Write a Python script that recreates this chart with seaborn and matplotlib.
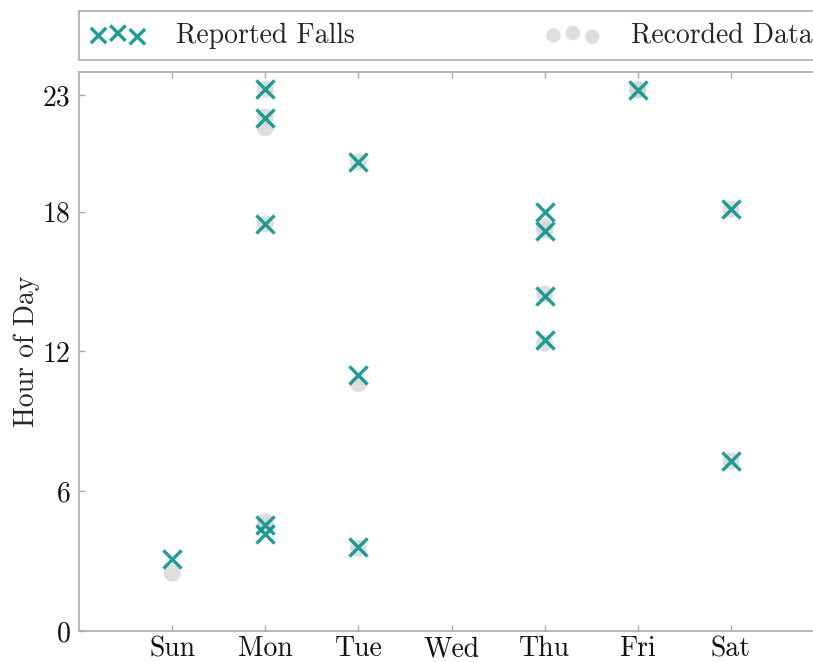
import matplotlib
matplotlib.use("Agg")
import matplotlib.pyplot as plt
import seaborn as sns
import pandas as pd

day_names = ["Sun", "Mon", "Tue", "Wed", "Thu", "Fri", "Sat"]
y_ticks = [0, 6, 12, 18, 23]

falls_day = ["Sun", "Mon", "Mon", "Mon", "Mon", "Mon", "Tue", "Tue", "Tue",
             "Thu", "Thu", "Thu", "Thu", "Fri", "Sat", "Sat"]
falls_hour = [3.08, 23.25, 22.0, 17.47, 4.54, 4.15, 20.13, 11.0, 3.6,
              17.98, 17.15, 14.38, 12.47, 23.2, 18.1, 7.3]

rec_day = ["Sun", "Mon", "Mon", "Mon", "Mon", "Mon", "Mon", "Tue", "Tue", "Tue",
           "Thu", "Thu", "Thu", "Thu", "Fri", "Fri", "Sat", "Sat"]
rec_hour = [2.48, 23.25, 22.05, 21.6, 17.47, 4.68, 4.5, 20.13, 10.62, 3.55,
            17.35, 17.2, 14.45, 12.35, 23.25, 23.2, 18.1, 7.3]

falls = pd.DataFrame({"day": [day_names.index(d) for d in falls_day], "hour": falls_hour})
rec = pd.DataFrame({"day": [day_names.index(d) for d in rec_day], "hour": rec_hour})

sns.set_style("ticks")
plt.rcParams["font.family"] = ["cmr10", "DejaVu Serif"]
plt.rcParams["mathtext.fontset"] = "cm"
plt.rcParams["axes.unicode_minus"] = False

fig = plt.figure(figsize=(8.13, 6.62), dpi=100)
ax = fig.add_axes([0.0972, 0.0468, 0.9164, 0.8449])

teal = "#0b968f"
grey = "#d4d4d4"

sns.scatterplot(data=rec, x="day", y="hour", ax=ax, marker="o", s=150,
                color=grey, alpha=0.75, edgecolor="none", linewidth=0,
                label="Recorded Data", zorder=2)
sns.scatterplot(data=falls, x="day", y="hour", ax=ax, marker="x", s=170,
                color=teal, alpha=0.92, linewidth=2.4,
                label="Reported Falls", zorder=3)

ax.set_xlim(-1, 7)
ax.set_ylim(0, 24)
ax.set_xticks(range(len(day_names)), labels=day_names)
ax.set_yticks(y_ticks, labels=[str(t) for t in y_ticks])
ax.set_xlabel("")
ax.set_ylabel("Hour of Day", fontsize=20, labelpad=2)

spine_col = "#aaaaaa"
for s in ax.spines.values():
    s.set_color(spine_col)
    s.set_linewidth(1.2)
    s.set_visible(True)
ax.tick_params(axis="both", which="both", direction="in", length=4.5, width=1.0,
               color=spine_col, labelsize=20, top=True, right=True,
               labelcolor="#111111")
ax.tick_params(axis="x", pad=3.5)
ax.tick_params(axis="y", pad=6)

handles, labels = ax.get_legend_handles_labels()
order = [labels.index("Reported Falls"), labels.index("Recorded Data")]
leg = ax.legend([handles[i] for i in order], [labels[i] for i in order],
                loc="lower left", bbox_to_anchor=(0, 1.021, 1, 0.092),
                mode="expand", ncol=2, scatterpoints=3, fontsize=20,
                frameon=True, fancybox=False, framealpha=1, markerscale=0.85,
                edgecolor=spine_col, borderaxespad=0, handletextpad=1.1,
                borderpad=0.4)
leg.get_frame().set_linewidth(1.2)

fig.savefig("out.png", dpi=100)
